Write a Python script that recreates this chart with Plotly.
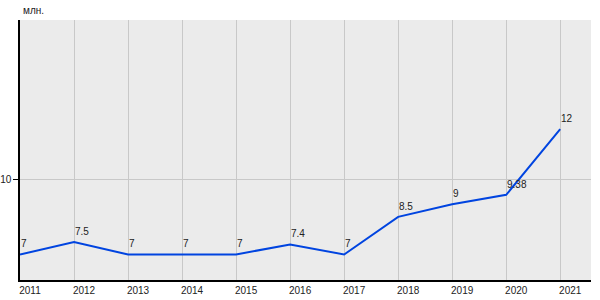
import plotly.graph_objects as go

years = [2011, 2012, 2013, 2014, 2015, 2016, 2017, 2018, 2019, 2020, 2021]
values = [7, 7.5, 7, 7, 7, 7.4, 7, 8.5, 9, 9.38, 12]
labels = ["7", "7.5", "7", "7", "7", "7.4", "7", "8.5", "9", "9.38", "12"]
y_ticks = [10]
unit = "млн."

fig = go.Figure()
fig.add_trace(go.Scatter(
    x=years, y=values, mode="lines",
    line=dict(color="#0044e0", width=2), hoverinfo="skip"))

annotations = [dict(text=unit, x=0, y=1, xref="paper", yref="paper",
                    xanchor="left", yanchor="bottom", yshift=2, xshift=1,
                    showarrow=False, font=dict(size=10, color="#222"))]
for x, y, t in zip(years, values, labels):
    annotations.append(dict(text=t, x=x, y=y, xref="x", yref="y",
                            xanchor="left", yanchor="bottom", yshift=3, xshift=-1,
                            showarrow=False,
                            font=dict(family="Liberation Sans, Arial", size=10, color="#222")))

fig.update_layout(
    width=600, height=300,
    margin=dict(l=20, r=9, t=20, b=20),
    paper_bgcolor="white", plot_bgcolor="#ebebeb",
    showlegend=False,
    font=dict(family="Liberation Sans, Arial", size=11, color="#222"),
    annotations=annotations,
)
fig.update_xaxes(range=[2011, 2021.57], tickvals=years, ticktext=[str(y) for y in years],
                 showgrid=True, gridcolor="#c8c8c8", gridwidth=1,
                 showline=True, linecolor="black", linewidth=1.5,
                 ticks="", zeroline=False, tickfont=dict(size=10), automargin=False,
                 ticklabelshift=10)
fig.update_yaxes(range=[5.98, 16.36], tickvals=y_ticks,
                 showgrid=True, gridcolor="#c8c8c8", gridwidth=1,
                 showline=True, linecolor="black", linewidth=1.5,
                 ticks="outside", ticklen=5, tickcolor="black",
                 zeroline=False, tickfont=dict(size=10), automargin=False)

fig.write_html("out.html")
